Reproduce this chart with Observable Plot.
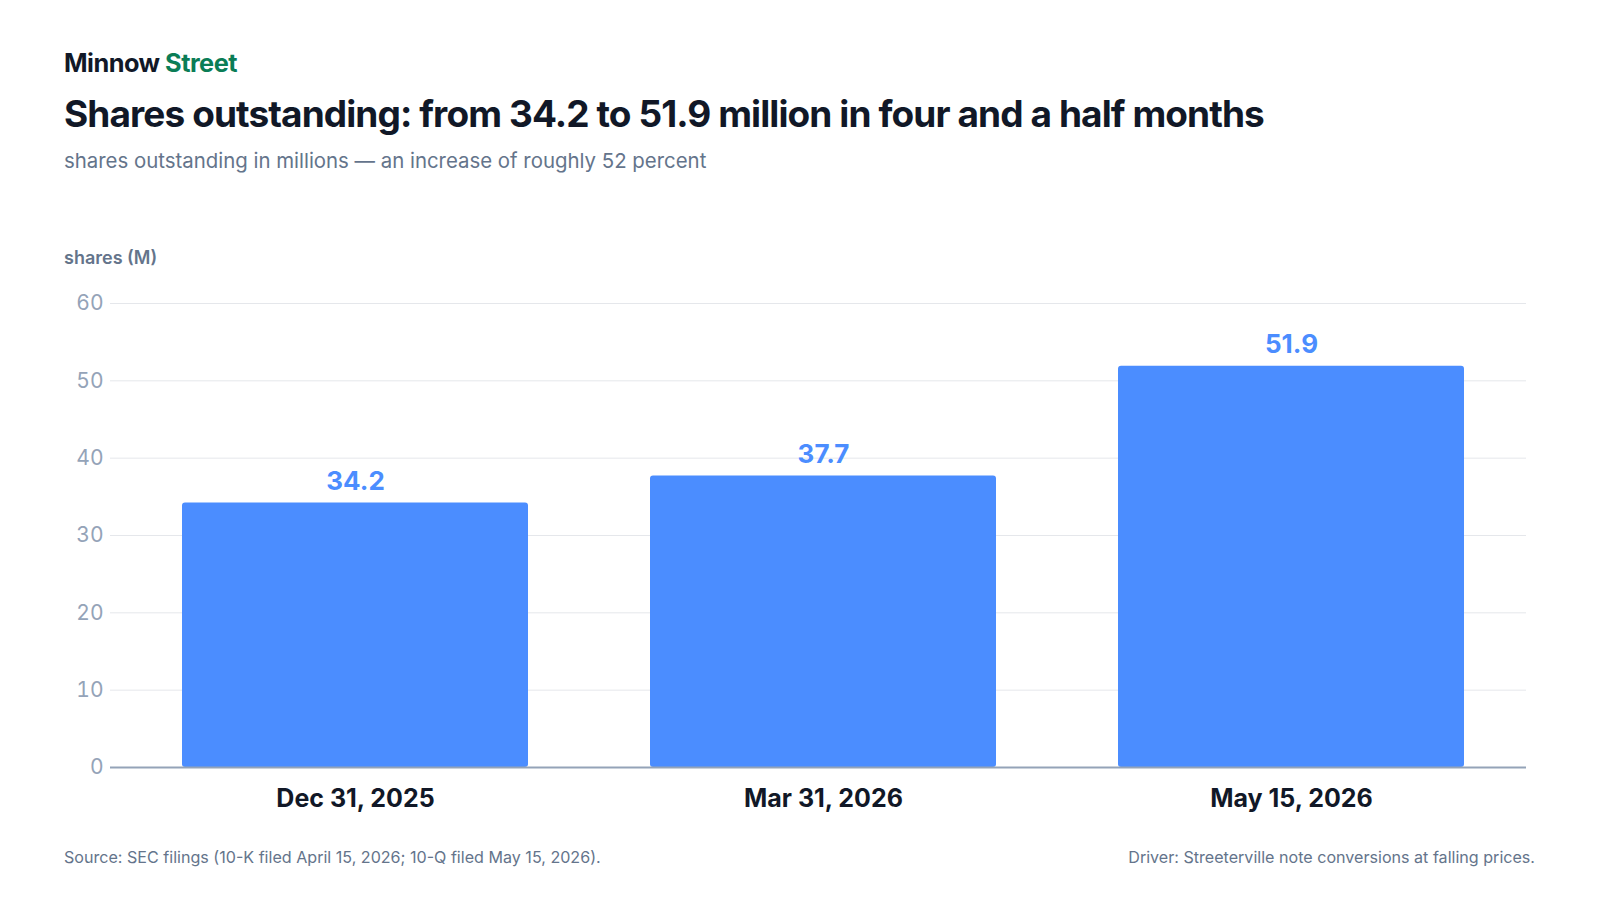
<!DOCTYPE html>
<html>
<head>
<meta charset="utf-8">
<script src="https://cdn.jsdelivr.net/npm/d3@7"></script>
<script src="https://cdn.jsdelivr.net/npm/@observablehq/plot@0.6"></script>
<style>
  html, body { margin: 0; padding: 0; background: #ffffff; }
  body { width: 1600px; height: 900px; position: relative; font-family: Inter, "Noto Sans", sans-serif; overflow: hidden; }
  .abs { position: absolute; white-space: nowrap; }
  .brand { left: 64px; top: 48px; font-size: 25.3px; line-height: 30px; font-weight: 700; color: #111827; letter-spacing: -0.5px; }
  .brand span { color: #0b7d56; }
  .title { left: 64px; top: 92px; font-size: 37px; line-height: 44px; font-weight: 700; color: #111827; letter-spacing: -0.9px; }
  .subtitle { left: 64px; top: 148px; font-size: 20.4px; line-height: 26px; color: #64748b; }
  .ylabel { left: 64px; top: 247px; font-size: 18px; line-height: 22px; font-weight: 600; color: #64748b; }
  #chart { position: absolute; left: 0; top: 280px; }
  .foot { top: 846px; font-size: 16.1px; line-height: 22px; color: #64748b; }
  .foot.left { left: 64px; }
  .foot.right { right: 65px; }
</style>
</head>
<body>
<div class="abs brand">Minnow <span>Street</span></div>
<div class="abs title">Shares outstanding: from 34.2 to 51.9 million in four and a half months</div>
<div class="abs subtitle">shares outstanding in millions — an increase of roughly 52 percent</div>
<div class="abs ylabel">shares (M)</div>
<div id="chart"></div>
<div class="abs foot left">Source: SEC filings (10-K filed April 15, 2026; 10-Q filed May 15, 2026).</div>
<div class="abs foot right">Driver: Streeterville note conversions at falling prices.</div>
<script>
const dates = ["Dec 31, 2025", "Mar 31, 2026", "May 15, 2026"];
const shares = [34.2, 37.7, 51.9];
const yTicks = [0, 10, 20, 30, 40, 50, 60];

const data = dates.map((d, i) => ({date: d, value: shares[i]}));

const chart = Plot.plot({
  width: 1600,
  height: 537,
  marginTop: 23,
  marginBottom: 50,
  marginLeft: 110,
  marginRight: 74,
  style: {fontFamily: "Inter, 'Noto Sans', sans-serif", background: "transparent", overflow: "visible"},
  x: {domain: dates, range: [135, 1512], paddingInner: 0.26, paddingOuter: 0.1, label: null},
  y: {domain: [0, 60], label: null},
  marks: [
    Plot.gridY(yTicks, {stroke: "#e5e7eb", strokeOpacity: 1, strokeWidth: 1}),
    Plot.barY(data, {x: "date", y: "value", fill: "#4b8dff", rx: 3}),
    Plot.ruleY([0], {stroke: "#94a3b8", strokeWidth: 2}),
    Plot.text(data, {x: "date", y: "value", text: d => d.value.toFixed(1), dy: -21, fill: "#4b8dff", fontSize: 26, fontWeight: 700}),
    Plot.axisY(yTicks, {tickSize: 0, tickPadding: 7, fontSize: 21, fill: "#94a3b8", label: null, tickFormat: d => String(d)}),
    Plot.axisX({tickSize: 0, tickPadding: 22, fontSize: 25, fontWeight: 700, fill: "#111827", label: null})
  ]
});
document.getElementById("chart").appendChild(chart);
</script>
</body>
</html>
